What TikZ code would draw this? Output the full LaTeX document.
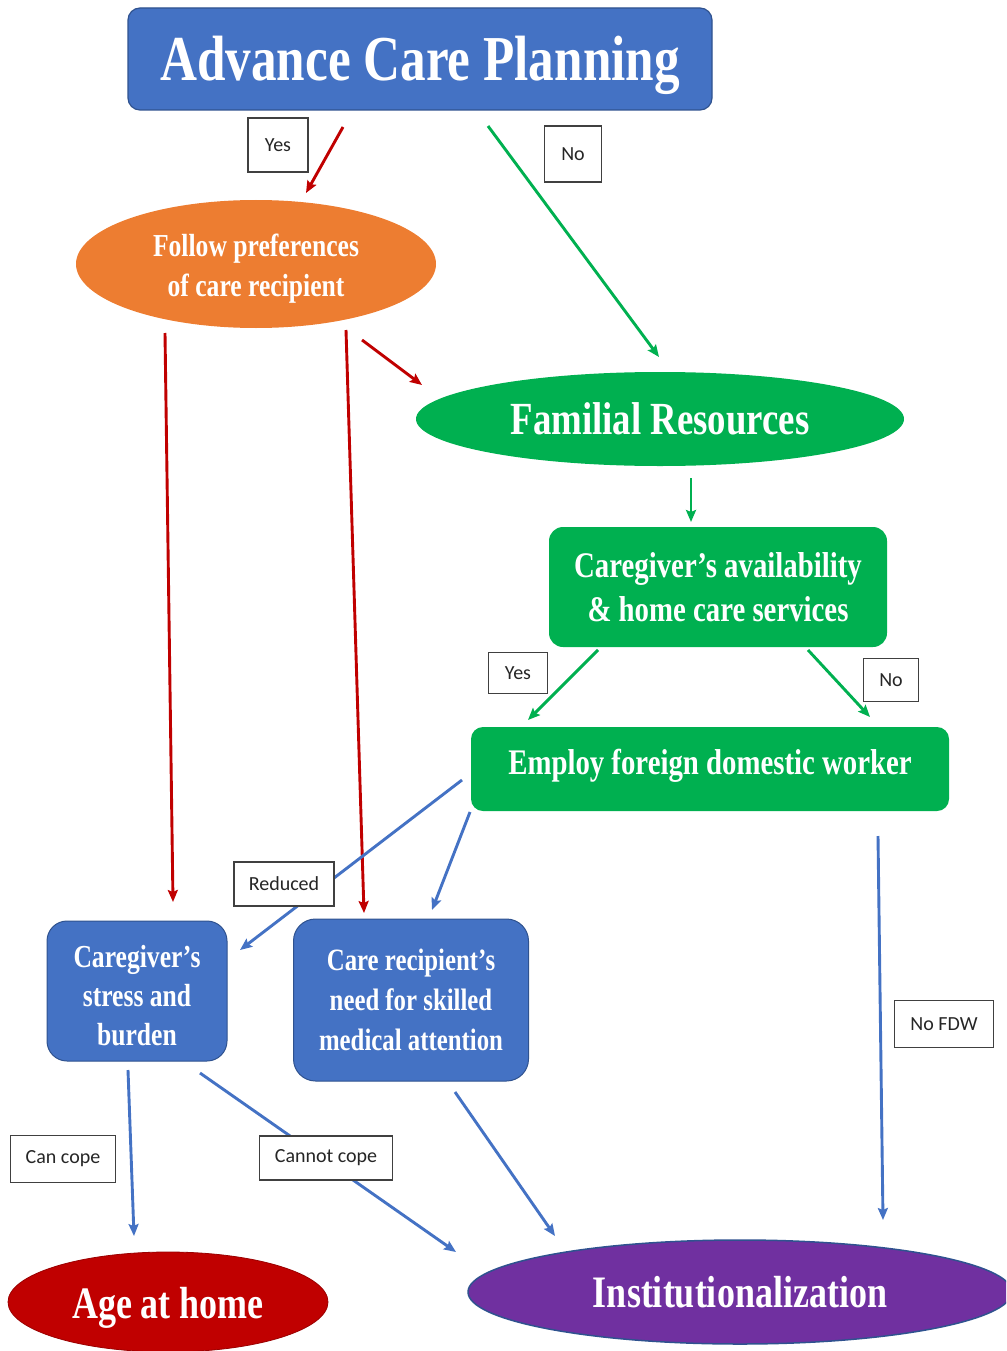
\documentclass[tikz,border=0pt]{standalone}
\usepackage{fontspec}
\usetikzlibrary{shapes.geometric,arrows.meta}
\newfontfamily\cond[FakeStretch=0.8]{Liberation Serif}
\newfontfamily\lab{Carlito}
\definecolor{cblue}{HTML}{4472C4}
\definecolor{cbluedark}{HTML}{2F528F}
\definecolor{corange}{HTML}{ED7D31}
\definecolor{cgreen}{HTML}{00B050}
\definecolor{cred}{HTML}{C00000}
\definecolor{cpurple}{HTML}{7030A0}
\definecolor{labgray}{HTML}{404040}
\begin{document}
\begin{tikzpicture}[x=1pt,y=-1pt,
  tbox/.style={text=white, align=center, inner sep=0pt, font=\cond\bfseries},
  rbox/.style={tbox, rectangle},
  ell/.style={tbox, ellipse},
  lbl/.style={draw=labgray, line width=1.4pt, fill=white, inner sep=0pt,
     font=\lab\fontsize{20}{22}\selectfont, text=black!85},
  arr/.style={line width=2.9pt, -{Stealth[length=12pt,width=10pt,inset=2pt]}}
]
\useasboundingbox (0,0) rectangle (1006,1351);
\clip (0,0) rectangle (1006,1351);

% main shapes
\node[rbox, fill=cblue, draw=cbluedark, line width=1.2pt, rounded corners=12pt,
  minimum width=584pt, minimum height=102pt] (acp) at (420,59) {};
\node[tbox, font=\cond\bfseries\fontsize{64}{70}\selectfont] (acpt) at (420,65) {Advance Care Planning};

\node[ell, fill=corange, minimum width=360pt, minimum height=128pt] (follow) at (256,264) {};
\node[tbox, font=\cond\bfseries\fontsize{32}{40}\selectfont] (followt) at (256,269)
  {Follow preferences\\of care recipient};

\node[ell, fill=cgreen, minimum width=488pt, minimum height=94pt,
  font=\cond\bfseries\fontsize{46}{50}\selectfont] (fam) at (660,419) {Familial Resources};

\node[rbox, fill=cgreen, rounded corners=14pt, minimum width=338pt, minimum height=120pt,
  font=\cond\bfseries\fontsize{36}{44}\selectfont] (avail) at (718,587)
  {Caregiver’s availability\\\& home care services};

\node[rbox, fill=cgreen, rounded corners=12pt, minimum width=478pt, minimum height=84pt] (fdw) at (710,769) {};
\node[tbox, font=\cond\bfseries\fontsize{36}{44}\selectfont] (fdwt) at (710,766) {Employ foreign domestic worker};

\node[rbox, fill=cblue, draw=cbluedark, line width=1pt, rounded corners=20pt,
  minimum width=180pt, minimum height=140pt] (stress) at (137,991) {};
\node[tbox, font=\cond\bfseries\fontsize{32}{39}\selectfont] (stresst) at (137,996)
  {Caregiver’s\\stress and\\burden};

\node[rbox, fill=cblue, draw=cbluedark, line width=1pt, rounded corners=22pt,
  minimum width=235pt, minimum height=162pt,
  font=\cond\bfseries\fontsize{31}{40}\selectfont] (need) at (411,1000)
  {Care recipient’s\\need for skilled\\medical attention};

\node[ell, fill=cred, draw=cred!80!black, line width=0.8pt, minimum width=320pt, minimum height=100pt] (home) at (168,1302) {};
\node[tbox, font=\cond\bfseries\fontsize{45}{50}\selectfont] (homet) at (168,1308) {Age at home};

\node[ell, fill=cpurple, draw=cbluedark, line width=1.5pt, minimum width=544pt, minimum height=104pt,
  font=\cond\bfseries\fontsize{45}{50}\selectfont] (inst) at (740,1292) {Institutionalization};

% connector end points
\coordinate (a1s) at (343,127);  \coordinate (a1e) at (306,193);
\coordinate (a2s) at (488,126);  \coordinate (a2e) at (659,357);
\coordinate (a3s) at (362,340);  \coordinate (a3e) at (422,385);
\coordinate (a4s) at (165,333);  \coordinate (a4e) at (173,902);
\coordinate (a5s) at (346,330);  \coordinate (a5e) at (364,913);
\coordinate (a6s) at (691,478);  \coordinate (a6e) at (691,522);
\coordinate (a7s) at (598,650);  \coordinate (a7e) at (528,720);
\coordinate (a8s) at (808,650);  \coordinate (a8e) at (870,717);
\coordinate (a9s) at (462,780);  \coordinate (a9e) at (240,950);
\coordinate (a10s) at (470,812); \coordinate (a10e) at (432,910);
\coordinate (a11s) at (878,836); \coordinate (a11e) at (883,1220);
\coordinate (a12s) at (128,1070);\coordinate (a12e) at (134,1236);
\coordinate (a13s) at (200,1073);\coordinate (a13e) at (456,1252);
\coordinate (a14s) at (455,1092);\coordinate (a14e) at (555,1236);

% connectors
\draw[arr, cred] (a1s) -- (a1e);
\draw[arr, cgreen] (a2s) -- (a2e);
\draw[arr, cred] (a3s) -- (a3e);
\draw[arr, cred] (a4s) -- (a4e);
\draw[arr, cred] (a5s) -- (a5e);
\draw[arr, cgreen] (a6s) -- (a6e);
\draw[arr, cgreen] (a7s) -- (a7e);
\draw[arr, cgreen] (a8s) -- (a8e);
\draw[arr, cblue] (a9s) -- (a9e);
\draw[arr, cblue] (a10s) -- (a10e);
\draw[arr, cblue] (a11s) -- (a11e);
\draw[arr, cblue] (a12s) -- (a12e);
\draw[arr, cblue] (a13s) -- (a13e);
\draw[arr, cblue] (a14s) -- (a14e);

% labels
\node[lbl, minimum width=60pt, minimum height=54pt] (l1) at (278,145) {Yes};
\node[lbl, minimum width=57pt, minimum height=56pt] (l2) at (573,154) {No};
\node[lbl, minimum width=59pt, minimum height=41pt] (l3) at (518,673) {Yes};
\node[lbl, minimum width=55pt, minimum height=43pt] (l4) at (891,680) {No};
\node[lbl, minimum width=100pt, minimum height=44pt] (l5) at (284,884) {Reduced};
\node[lbl, minimum width=99pt, minimum height=47pt] (l6) at (944,1024) {No FDW};
\node[lbl, minimum width=105pt, minimum height=47pt] (l7) at (63,1159) {Can cope};
\node[lbl, minimum width=133pt, minimum height=44pt] (l8) at (326,1158) {Cannot cope};
\end{tikzpicture}
\end{document}
